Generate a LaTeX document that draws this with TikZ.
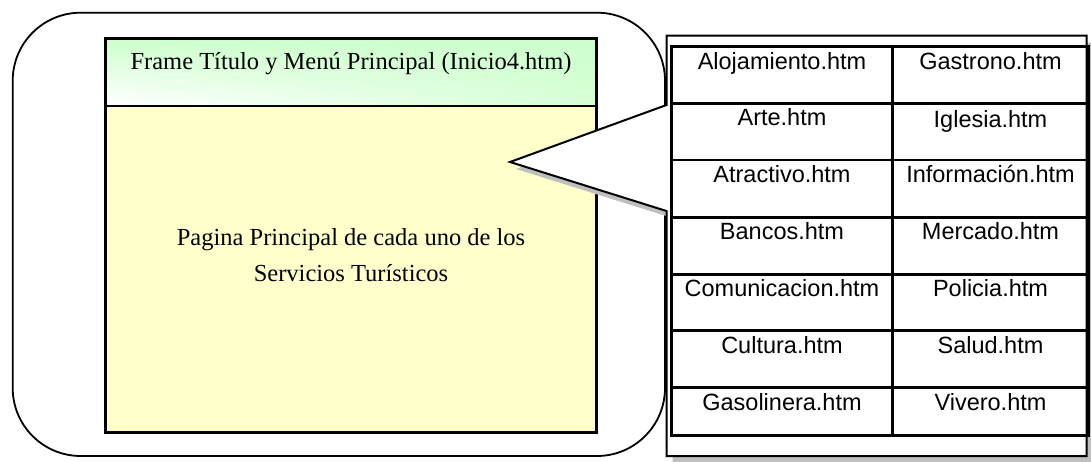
\documentclass[tikz,border=0pt]{standalone}
\usepackage{fontspec}
\usetikzlibrary{shadings}
\setmainfont{Liberation Serif}
\newfontfamily\tablefont{Liberation Sans}
\definecolor{hdrgreen}{RGB}{204,255,204}
\definecolor{pageyellow}{RGB}{255,255,204}
\tikzset{
  cell/.style={anchor=base, font=\tablefont\fontsize{23.5}{28}\selectfont},
  frametext/.style={anchor=base, font=\fontsize{24.5}{30}\selectfont},
}
\begin{document}
\begin{tikzpicture}[x=1pt,y=-1pt]
\useasboundingbox (0,0) rectangle (1091,462);
% outer frame
\draw[line width=1.8pt, rounded corners=68pt] (12.7,12.7) rectangle (665,456);
% frames of the page
\shade[upper left=hdrgreen, upper right=hdrgreen, lower right=hdrgreen!80!white, lower left=white] (105.7,38.3) rectangle (596.5,106);
\draw[line width=2.5pt] (105.7,38.3) rectangle (596.5,106);
\draw[line width=2.5pt, fill=pageyellow] (105.7,106) rectangle (596.5,432.5);
\node[frametext] (title) at (351,69.3) {Frame Título y Menú Principal (Inicio4.htm)};
\node[frametext] (main1) at (351,246) {Pagina Principal de cada uno de los};
\node[frametext] (main2) at (351,281.7) {Servicios Turísticos};
% callout with its shadow
\fill[gray!50, shift={(6,7)}] (666.5,35.7) -- (1086.5,35.7) -- (1086.5,456) -- (666.5,456) -- (666.5,211) -- (510,162) -- (666.5,105) -- cycle;
\draw[line width=2pt, fill=white] (666.5,35.7) -- (1086.5,35.7) -- (1086.5,456) -- (666.5,456) -- (666.5,211) -- (510,162) -- (666.5,105) -- cycle;
% table of pages
\draw[line width=2.5pt] (671.7,46.7) rectangle (1088.3,435.5);
\draw[line width=2.5pt] (892.7,46.7) -- (892.7,435.5);
\foreach \y in {103.3,160,217.5,274.3,330.7,387.7}
  \draw[line width=2.5pt] (671.7,\y) -- (1088.3,\y);
\node[cell] (aloj) at (782,69.2) {Alojamiento.htm};
\node[cell] (gastro) at (990.5,69.2) {Gastrono.htm};
\node[cell] (arte) at (782,125.8) {Arte.htm};
\node[cell] (iglesia) at (990.5,127.8) {Iglesia.htm};
\node[cell] (atract) at (782,182.5) {Atractivo.htm};
\node[cell] (info) at (990.5,182.5) {Información.htm};
\node[cell] (bancos) at (782,240) {Bancos.htm};
\node[cell] (mercado) at (990.5,240) {Mercado.htm};
\node[cell] (comun) at (782,296.8) {Comunicacion.htm};
\node[cell] (policia) at (990.5,296.8) {Policia.htm};
\node[cell] (cultura) at (782,353.2) {Cultura.htm};
\node[cell] (salud) at (990.5,353.2) {Salud.htm};
\node[cell] (gasol) at (782,410.2) {Gasolinera.htm};
\node[cell] (vivero) at (990.5,410.2) {Vivero.htm};
\end{tikzpicture}
\end{document}
